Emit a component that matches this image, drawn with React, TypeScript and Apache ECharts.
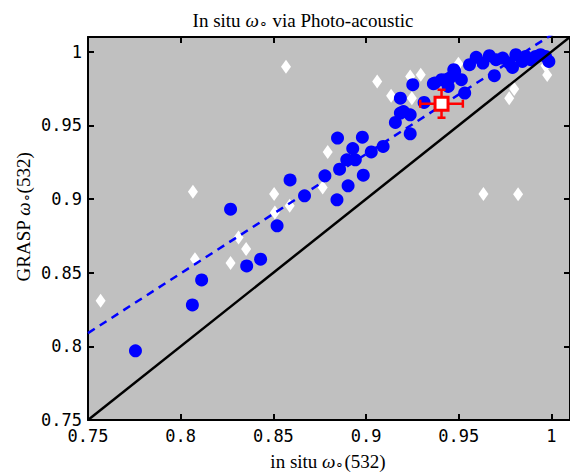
import React, { useEffect, useRef } from "react";
import * as echarts from "echarts";

const circles: [number, number][] = [
  [0.7756, 0.797], [0.8063, 0.8281], [0.8113, 0.8451], [0.8269, 0.8931], [0.8356, 0.8546],
  [0.8431, 0.8592], [0.852, 0.8818], [0.859, 0.913], [0.8668, 0.9022], [0.8778, 0.9158],
  [0.8843, 0.8995], [0.8857, 0.9203], [0.8846, 0.9414], [0.8896, 0.9266], [0.8903, 0.909],
  [0.8928, 0.9343], [0.8942, 0.9266], [0.898, 0.942], [0.8985, 0.9162], [0.9028, 0.932],
  [0.9092, 0.9357], [0.9158, 0.952], [0.9238, 0.9443], [0.9185, 0.9584], [0.9238, 0.9572],
  [0.9185, 0.9685], [0.9202, 0.9594], [0.9252, 0.9776], [0.9313, 0.9656], [0.9363, 0.9783],
  [0.9371, 0.9787], [0.9407, 0.981], [0.943, 0.981], [0.9443, 0.9764], [0.9451, 0.9821],
  [0.9473, 0.9878], [0.9478, 0.9866], [0.9514, 0.981], [0.9532, 0.9719], [0.9558, 0.9912],
  [0.9594, 0.9962], [0.963, 0.9923], [0.9665, 0.9973], [0.9692, 0.9837], [0.9701, 0.9946],
  [0.9737, 0.9957], [0.9772, 0.9923], [0.979, 0.9893], [0.9808, 0.998], [0.9843, 0.9934],
  [0.9861, 0.9968], [0.9888, 0.9946], [0.9915, 0.9968], [0.9941, 0.998], [0.9968, 0.9968],
  [0.9986, 0.9934],
];

const diamonds: [number, number][] = [
  [0.7568, 0.831], [0.8066, 0.9049], [0.8077, 0.8592], [0.8269, 0.8565], [0.8312, 0.8739],
  [0.8353, 0.866], [0.8504, 0.9035], [0.8508, 0.8908], [0.8568, 0.9898], [0.8588, 0.8954],
  [0.8766, 0.9078], [0.8793, 0.9319], [0.906, 0.9798], [0.9135, 0.9701], [0.9238, 0.9832],
  [0.9247, 0.9685], [0.9295, 0.9844], [0.9498, 0.9918], [0.9578, 0.9923], [0.9633, 0.9035],
  [0.9772, 0.9685], [0.9799, 0.9747], [0.9968, 0.9905], [0.9977, 0.9842], [0.982, 0.9033],
];

const fitLine: [number, number][] = [[0.75, 0.809], [1.01, 1.0196]];
const oneToOne: [number, number][] = [[0.75, 0.75], [1.01, 1.01]];
const reference: [number, number, number, number][] = [[0.9407, 0.9647, 0.0115, 0.0095]];

const TITLE = "{t|In situ }{w|ω}{s|∘}{t| via Photo-acoustic}";
const XNAME = "{t|in situ }{w|ω}{s|∘}{t|(532)}";
const YNAME = "{t|GRASP }{w|ω}{s|∘}{t|(532)}";

const serif = "Liberation Serif";
const mono = "DejaVu Sans Mono";

const fmt = (v: number) => String(+v.toFixed(2));

export default function App() {
  const ref = useRef<HTMLDivElement>(null);
  useEffect(() => {
    document.body.style.margin = "0";
    const chart = echarts.init(ref.current!, null, { renderer: "svg" });
    const rich = (size: number) => ({
      t: { fontFamily: serif, fontSize: size, fill: "#000", verticalAlign: "bottom" },
      w: { fontFamily: serif, fontStyle: "italic", fontSize: size, fill: "#000", verticalAlign: "bottom" },
      s: { fontFamily: serif, fontSize: size * 0.75, padding: [size * 0.45, 0, 0, 0], verticalAlign: "bottom", fill: "#000" },
    });
    const textStyle = (text: string, size: number) => ({
      text, fontSize: size, fontFamily: serif, fill: "#000", align: "center", verticalAlign: "middle", rich: rich(size),
    });
    const axisCommon = {
      type: "value" as const,
      axisLine: { show: true, onZero: false, lineStyle: { color: "#000", width: 2 } },
      axisTick: { show: true, inside: true, length: 6, lineStyle: { color: "#000", width: 2 } },
      splitLine: { show: false },
    };
    const labelStyle = { fontFamily: mono, fontSize: 17, color: "#000", formatter: fmt };
    chart.setOption({
      animation: false,
      grid: { left: 88, top: 37, right: -5, bottom: 53, show: true, backgroundColor: "#c0c0c0", borderWidth: 0 },
      xAxis: [
        { ...axisCommon, position: "bottom", min: 0.75, max: 1.01, interval: 0.05, axisLabel: { ...labelStyle, margin: 7 } },
        { ...axisCommon, position: "top", min: 0.75, max: 1.01, interval: 0.05, axisLabel: { show: false } },
      ],
      yAxis: [
        { ...axisCommon, position: "left", min: 0.75, max: 1.01, interval: 0.05, axisLabel: { ...labelStyle, margin: 6 } },
        { ...axisCommon, position: "right", min: 0.75, max: 1.01, interval: 0.05, axisLabel: { show: false } },
      ],
      graphic: [
        { type: "text", x: 303, y: 19, style: textStyle(TITLE, 19) },
        { type: "text", x: 328, y: 460, style: textStyle(XNAME, 19) },
        { type: "text", x: 22, y: 217, rotation: Math.PI / 2, style: textStyle(YNAME, 19) },
      ],
      series: [
        {
          type: "scatter", data: diamonds, symbol: "diamond", symbolSize: [10, 14],
          itemStyle: { color: "#ffffff", opacity: 1 }, z: 2,
        },
        {
          type: "scatter", data: circles, symbol: "circle", symbolSize: 13,
          itemStyle: { color: "#0000ff", opacity: 1 }, z: 3,
        },
        {
          type: "line", data: fitLine, symbol: "none", z: 4,
          lineStyle: { color: "#0000ff", width: 2.5, type: [8, 6] },
        },
        {
          type: "line", data: oneToOne, symbol: "none", z: 5,
          lineStyle: { color: "#000000", width: 2.5 },
        },
        {
          type: "custom", z: 6, data: reference,
          renderItem: (_p: any, api: any) => {
            const x = api.value(0), y = api.value(1), ex = api.value(2), ey = api.value(3);
            const l = api.coord([x - ex, y]);
            const r = api.coord([x + ex, y]);
            const t = api.coord([x, y + ey]);
            const b = api.coord([x, y - ey]);
            const cap = 4;
            const st = { stroke: "#ff0000", lineWidth: 2.5 };
            const ln = (x1: number, y1: number, x2: number, y2: number) => ({ type: "line", shape: { x1, y1, x2, y2 }, style: st });
            return {
              type: "group",
              children: [
                ln(l[0], l[1], r[0], r[1]),
                ln(t[0], t[1], b[0], b[1]),
                ln(l[0], l[1] - cap, l[0], l[1] + cap),
                ln(r[0], r[1] - cap, r[0], r[1] + cap),
                ln(t[0] - cap, t[1], t[0] + cap, t[1]),
                ln(b[0] - cap, b[1], b[0] + cap, b[1]),
              ],
            };
          },
        },
        {
          type: "scatter", z: 7, data: reference.map((d) => [d[0], d[1]]), symbol: "rect", symbolSize: 13,
          itemStyle: { color: "#ffffff", borderColor: "#ff0000", borderWidth: 3, opacity: 1 },
        },
      ],
    });
    return () => chart.dispose();
  }, []);
  return <div ref={ref} style={{ width: 570, height: 473, overflow: "hidden" }} />;
}
